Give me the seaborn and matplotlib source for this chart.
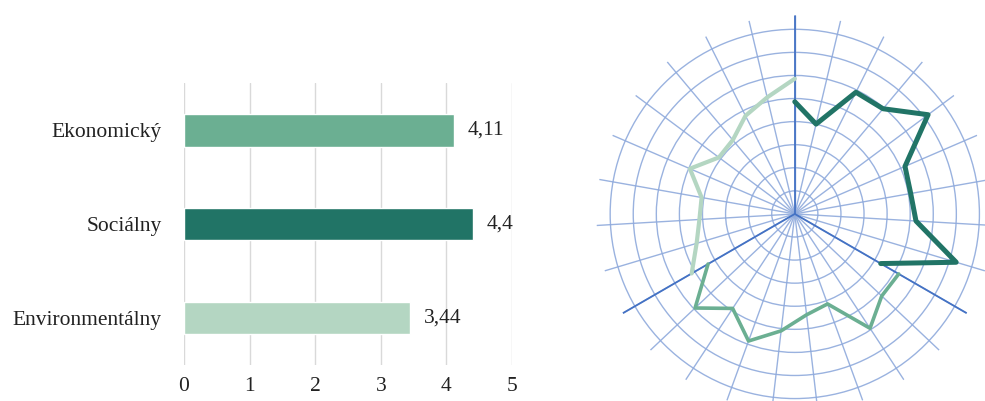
import numpy as np
import pandas as pd
import matplotlib
matplotlib.use('Agg')
import matplotlib.pyplot as plt
import seaborn as sns

# ========================================
# Data
# ========================================
categories = ['Ekonomický', 'Sociálny', 'Environmentálny']
scores = [4.11, 4.4, 3.44]
score_labels = ['4,11', '4,4', '3,44']
colors = ['#6BAF92', '#217466', '#B4D6C2']

# radar: 27 spokes, each pillar covers 10 spokes (shared border spokes)
n_spokes = 27
social_vals = [4.86, 4.0, 5.9, 5.95, 7.2, 5.2, 5.1, 5.26, 7.3, 4.3]
economic_vals = [5.2, 5.18, 5.93, 4.15, 4.4, 5.1, 5.86, 4.9, 5.94, 4.34]
environment_vals = [5.16, 4.44, 4.14, 4.1, 4.95, 4.1, 4.18, 4.76, 5.19, 5.86]
ring_levels = [1, 2, 3, 4, 5, 6, 7, 8]
r_max = 8.6

sns.set_theme(style='white')
plt.rcParams['font.family'] = ['Liberation Serif', 'DejaVu Serif']

fig = plt.figure(figsize=(9.85, 4.01), dpi=100)

# ========================================
# Bar chart
# ========================================
ax = fig.add_axes([0.1868, 0.0898, 0.333, 0.703])
df = pd.DataFrame({'pilier': categories, 'skore': scores})
sns.barplot(data=df, x='skore', y='pilier', hue='pilier', palette=colors,
            width=0.35, legend=False, ax=ax, saturation=1)
ax.set_xlim(0, 5)
ax.set_ylim(2.5, -0.5)
ax.set_xticks(range(6))
ax.xaxis.grid(True, color='#d9d9d9', linewidth=1)
ax.yaxis.grid(False)
ax.set_axisbelow(True)
for s in ax.spines.values():
    s.set_visible(False)
ax.set_xlabel('')
ax.set_ylabel('')
ax.tick_params(axis='x', length=0, pad=9, labelsize=15.5, colors='#222222')
ax.tick_params(axis='y', length=0, pad=16, labelsize=15.5, colors='#222222')
for i, (v, lab) in enumerate(zip(scores, score_labels)):
    ax.annotate(lab, (v, i), xytext=(10, 0), textcoords='offset points',
                ha='left', va='center', fontsize=15.5, color='#222222')

# ========================================
# Radar chart
# ========================================
rad = fig.add_axes([0.6054, -0.029, 0.403, 0.991], projection='polar')
rad.set_theta_zero_location('N')
rad.set_theta_direction(-1)
spoke_angles = np.arange(n_spokes) * 2 * np.pi / n_spokes
rad.set_xticks(spoke_angles)
rad.set_xticklabels([])
rad.set_yticks(ring_levels)
rad.set_yticklabels([])
rad.set_ylim(0, r_max)
rad.grid(True, color='#8FAADC', linewidth=1.0, alpha=0.9)
rad.spines['polar'].set_visible(False)
rad.set_facecolor('white')

# thick border spokes between pillars
for k in [0, 9, 18]:
    rad.plot([spoke_angles[k], spoke_angles[k]], [0, r_max], color='#4472C4', linewidth=1.3)

series = [(social_vals, 0, colors[1], 3.6),
          (economic_vals, 9, colors[0], 2.6),
          (environment_vals, 18, colors[2], 3.0)]
for vals, start, col, lw in series:
    idx = np.arange(start, start + len(vals))
    theta = idx * 2 * np.pi / n_spokes
    sns.lineplot(x=theta, y=vals, sort=False, color=col, linewidth=lw, ax=rad)
rad.set_xlabel('')
rad.set_ylabel('')

fig.savefig('out.png', dpi=100)
